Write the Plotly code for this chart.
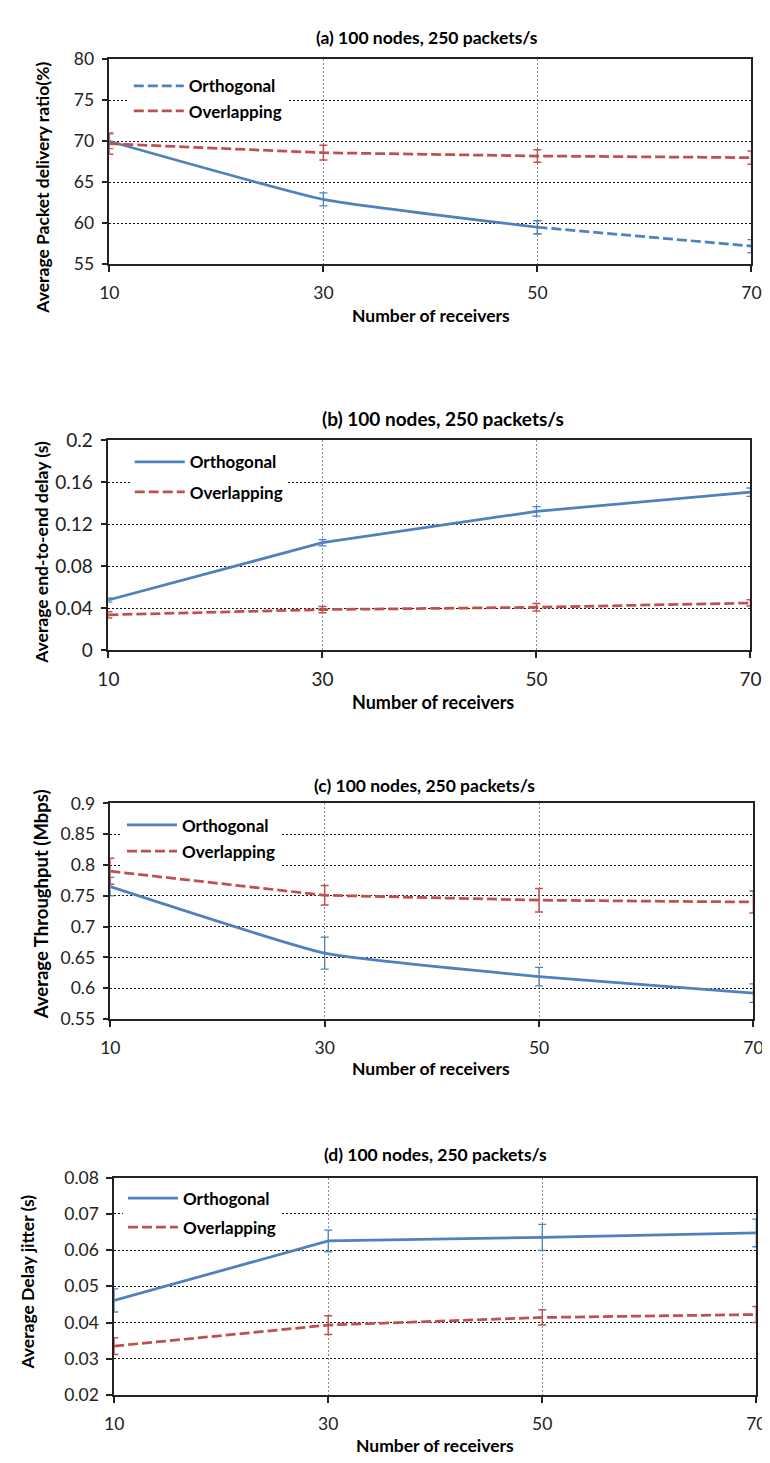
import plotly.graph_objects as go

# ---------------- data ----------------
receivers = [10, 30, 50, 70]
x_tick_labels = ["10", "30", "50", "70"]

pdr_orth = [70.0, 62.9, 59.5, 57.2]
pdr_orth_err = [0.9, 0.8, 0.8, 0.8]
pdr_over = [69.7, 68.6, 68.2, 68.0]
pdr_over_err = [1.3, 0.9, 0.75, 0.8]
pdr_ticks = [55, 60, 65, 70, 75, 80]
pdr_tick_labels = ["55", "60", "65", "70", "75", "80"]

delay_orth = [0.0476, 0.1023, 0.1322, 0.1505]
delay_orth_err = [0.002, 0.003, 0.0045, 0.004]
delay_over = [0.0335, 0.0385, 0.0407, 0.0448]
delay_over_err = [0.003, 0.003, 0.0035, 0.003]
delay_ticks = [0, 0.04, 0.08, 0.12, 0.16, 0.2]
delay_tick_labels = ["0", "0.04", "0.08", "0.12", "0.16", "0.2"]

thr_orth = [0.765, 0.657, 0.619, 0.592]
thr_orth_err = [0.015, 0.026, 0.015, 0.015]
thr_over = [0.790, 0.751, 0.743, 0.740]
thr_over_err = [0.021, 0.016, 0.019, 0.018]
thr_ticks = [0.55, 0.6, 0.65, 0.7, 0.75, 0.8, 0.85, 0.9]
thr_tick_labels = ["0.55", "0.6", "0.65", "0.7", "0.75", "0.8", "0.85", "0.9"]

jit_orth = [0.0461, 0.0625, 0.0635, 0.0647]
jit_orth_err = [0.0032, 0.003, 0.0036, 0.0038]
jit_over = [0.0335, 0.0393, 0.0414, 0.0422]
jit_over_err = [0.0023, 0.0026, 0.0021, 0.0022]
jit_ticks = [0.02, 0.03, 0.04, 0.05, 0.06, 0.07, 0.08]
jit_tick_labels = ["0.02", "0.03", "0.04", "0.05", "0.06", "0.07", "0.08"]

titles = ["(a) 100 nodes, 250 packets/s", "(b) 100 nodes, 250 packets/s",
          "(c) 100 nodes, 250 packets/s", "(d) 100 nodes, 250 packets/s"]
y_titles = ["Average Packet delivery ratio(%)", "Average end-to-end delay (s)",
            "Average Throughput (Mbps)", "Average Delay jitter (s)"]
x_title = "Number of receivers"
series_names = ["Orthogonal", "Overlapping"]

# ---------------- style / layout ----------------
W, H = 770, 1463
BLUE = "#4F81BD"
RED = "#C0504D"
FONT = "Lato"
DASH = "10px,4px"

# plot boxes in pixels: left, right, top, bottom
boxes = [(93, 754, 40, 248), (92, 753, 427, 640), (94, 756, 796, 1015), (98, 759, 1176, 1397)]
title_pos = [(420, 18), (436, 405), (417, 778), (429, 1153)]
title_size = [17.5, 19, 17.5, 17.5]
xtitle_pos = [(424, 300), (426, 693), (424, 1065), (428, 1448)]
xtitle_size = [17.5, 18, 17.5, 17.5]
ytitle_pos = [(24, 170), (23, 541), (23, 898), (9, 1282)]
ytitle_size = [17.5, 17.5, 18.5, 17.5]
tick_size = [17.5, 19, 17.5, 17.5]
legend_pos = [(113, 49), (114, 431), (106, 800), (107, 1179)]
legend_gap = [0, 5, 1, 4]
smooth = [0.4, 0, 0.4, 0]

panels = [
    (pdr_orth, pdr_orth_err, pdr_over, pdr_over_err, pdr_ticks, pdr_tick_labels),
    (delay_orth, delay_orth_err, delay_over, delay_over_err, delay_ticks, delay_tick_labels),
    (thr_orth, thr_orth_err, thr_over, thr_over_err, thr_ticks, thr_tick_labels),
    (jit_orth, jit_orth_err, jit_over, jit_over_err, jit_ticks, jit_tick_labels),
]

fig = go.Figure()
annotations = []
layout = dict(
    width=W, height=H, margin=dict(l=0, r=0, t=0, b=0),
    paper_bgcolor="white", plot_bgcolor="white",
    font=dict(family=FONT, color="black"),
    showlegend=True,
)

LW = 2.75
for i, (o, oe, v, ve, yt, ytl) in enumerate(panels):
    n = "" if i == 0 else str(i + 1)
    xa, ya = "x" + n, "y" + n
    leg = "legend" + n
    l, r, t, b = boxes[i]
    shape = "spline" if smooth[i] > 0 else "linear"
    sm = smooth[i] if smooth[i] > 0 else 1

    # orthogonal
    if i == 0:
        fig.add_trace(go.Scatter(
            x=receivers[:3], y=o[:3], mode="lines", xaxis=xa, yaxis=ya,
            line=dict(color=BLUE, width=LW, shape=shape, smoothing=sm), showlegend=False,
            error_y=dict(type="data", array=oe[:3], color=BLUE, thickness=1.3, width=4),
            legend=leg, legendgroup="o" + n))
        fig.add_trace(go.Scatter(
            x=receivers[2:], y=o[2:], mode="lines", xaxis=xa, yaxis=ya,
            name=series_names[0],
            line=dict(color=BLUE, width=LW, dash=DASH),
            error_y=dict(type="data", array=oe[2:], color=BLUE, thickness=1.3, width=4),
            legend=leg, legendgroup="o" + n))
    else:
        fig.add_trace(go.Scatter(
            x=receivers, y=o, mode="lines", xaxis=xa, yaxis=ya,
            name=series_names[0],
            line=dict(color=BLUE, width=LW, shape=shape, smoothing=sm),
            error_y=dict(type="data", array=oe, color=BLUE, thickness=1.3, width=4),
            legend=leg, legendgroup="o" + n))
    # overlapping
    fig.add_trace(go.Scatter(
        x=receivers, y=v, mode="lines", xaxis=xa, yaxis=ya,
        name=series_names[1],
        line=dict(color=RED, width=LW, dash=DASH),
        error_y=dict(type="data", array=ve, color=RED, thickness=1.5, width=4),
        legend=leg, legendgroup="v" + n))

    layout["xaxis" + n] = dict(
        domain=[l / W, r / W], anchor=ya, range=[receivers[0], receivers[-1]],
        tickvals=receivers, ticktext=x_tick_labels,
        showgrid=True, gridcolor="#8c8c8c", griddash="2px,2px", gridwidth=1,
        showline=True, linecolor="#222", linewidth=1.5, mirror=True,
        ticks="outside", ticklen=6, tickcolor="#222", tickwidth=1.5,
        ticklabelstandoff=6,
        tickfont=dict(size=tick_size[i], family=FONT, color="#222"),
        zeroline=False, fixedrange=True,
    )
    layout["yaxis" + n] = dict(
        domain=[1 - b / H, 1 - t / H], anchor=xa, range=[yt[0], yt[-1]],
        tickvals=yt, ticktext=ytl,
        showgrid=True, gridcolor="#111", griddash="2px,2px", gridwidth=1,
        showline=True, linecolor="#222", linewidth=1.5, mirror=True,
        ticks="outside", ticklen=6, tickcolor="#222", tickwidth=1.5,
        ticklabelstandoff=4,
        tickfont=dict(size=tick_size[i], family=FONT, color="#222"),
        zeroline=False, fixedrange=True,
    )
    lx, ly = legend_pos[i]
    layout[leg] = dict(
        x=lx / W, y=1 - ly / H, xanchor="left", yanchor="top",
        xref="paper", yref="paper",
        bgcolor="white", borderwidth=0, itemwidth=50,
        font=dict(size=17, family=FONT, color="black", weight="bold"),
        traceorder="grouped", tracegroupgap=legend_gap[i],
    )

    tx, ty = title_pos[i]
    annotations.append(dict(
        text="<b>" + titles[i] + "</b>", x=tx / W, y=1 - ty / H,
        xref="paper", yref="paper", showarrow=False,
        xanchor="center", yanchor="middle", font=dict(size=title_size[i], family=FONT)))
    xx, xy = xtitle_pos[i]
    annotations.append(dict(
        text="<b>" + x_title + "</b>", x=xx / W, y=1 - xy / H,
        xref="paper", yref="paper", showarrow=False,
        xanchor="center", yanchor="middle", font=dict(size=xtitle_size[i], family=FONT)))
    yx, yy = ytitle_pos[i]
    annotations.append(dict(
        text="<b>" + y_titles[i] + "</b>", x=yx / W, y=1 - yy / H,
        xref="paper", yref="paper", showarrow=False, textangle=-90,
        xanchor="center", yanchor="middle", font=dict(size=ytitle_size[i], family=FONT)))

layout["annotations"] = annotations
fig.update_layout(**layout)
fig.write_html("out.html")
